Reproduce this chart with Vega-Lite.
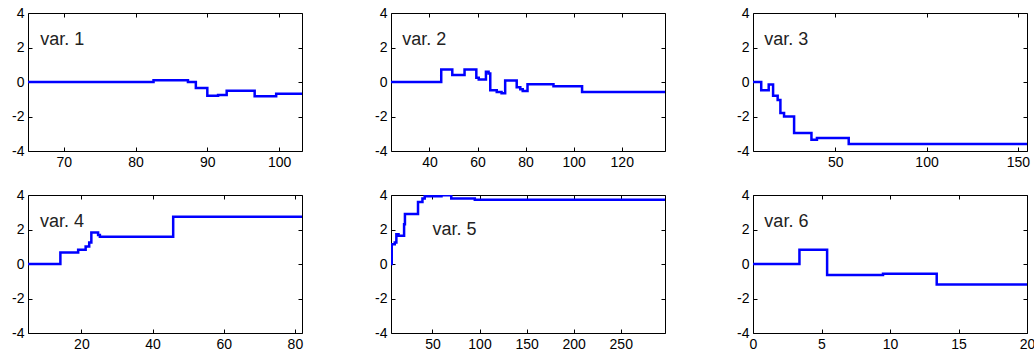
{
  "$schema": "https://vega.github.io/schema/vega-lite/v6.json",
  "background": "white",
  "padding": {"left": 11, "top": 5, "right": 3, "bottom": 5},
  "datasets": {
    "series": [
      {"v": 1, "x": 65, "y": 0}, {"v": 1, "x": 82.5, "y": 0.1}, {"v": 1, "x": 87.3, "y": 0}, {"v": 1, "x": 88.4, "y": -0.35},
      {"v": 1, "x": 90.0, "y": -0.8}, {"v": 1, "x": 91.5, "y": -0.75}, {"v": 1, "x": 92.7, "y": -0.5}, {"v": 1, "x": 96.6, "y": -0.82},
      {"v": 1, "x": 99.6, "y": -0.68}, {"v": 1, "x": 103.2, "y": -0.68},
      {"v": 2, "x": 24, "y": 0}, {"v": 2, "x": 44.9, "y": 0.72}, {"v": 2, "x": 49.5, "y": 0.4}, {"v": 2, "x": 54.6, "y": 0.73},
      {"v": 2, "x": 59.5, "y": 0.25}, {"v": 2, "x": 60.5, "y": 0.15}, {"v": 2, "x": 63.5, "y": 0.6}, {"v": 2, "x": 64.6, "y": 0.5},
      {"v": 2, "x": 65.3, "y": -0.48}, {"v": 2, "x": 68, "y": -0.58}, {"v": 2, "x": 70, "y": -0.65}, {"v": 2, "x": 71.5, "y": 0.08},
      {"v": 2, "x": 76.3, "y": -0.3}, {"v": 2, "x": 77.8, "y": -0.42}, {"v": 2, "x": 78.8, "y": -0.52}, {"v": 2, "x": 80.8, "y": -0.13},
      {"v": 2, "x": 91.6, "y": -0.25}, {"v": 2, "x": 103.5, "y": -0.58}, {"v": 2, "x": 138, "y": -0.58},
      {"v": 3, "x": 5, "y": 0}, {"v": 3, "x": 9.5, "y": -0.48}, {"v": 3, "x": 13.6, "y": -0.15}, {"v": 3, "x": 16, "y": -0.8},
      {"v": 3, "x": 18.5, "y": -1.05}, {"v": 3, "x": 20, "y": -1.8}, {"v": 3, "x": 22, "y": -2.0}, {"v": 3, "x": 27.5, "y": -2.95},
      {"v": 3, "x": 37, "y": -3.35}, {"v": 3, "x": 40, "y": -3.25}, {"v": 3, "x": 57.4, "y": -3.6}, {"v": 3, "x": 155, "y": -3.6},
      {"v": 4, "x": 5, "y": 0}, {"v": 4, "x": 14.1, "y": 0.67}, {"v": 4, "x": 19.1, "y": 0.83}, {"v": 4, "x": 21.2, "y": 1.02},
      {"v": 4, "x": 22.2, "y": 1.25}, {"v": 4, "x": 22.8, "y": 1.83}, {"v": 4, "x": 24.7, "y": 1.68}, {"v": 4, "x": 25.2, "y": 1.58},
      {"v": 4, "x": 45.8, "y": 2.74}, {"v": 4, "x": 82, "y": 2.74},
      {"v": 5, "x": 6, "y": 0}, {"v": 5, "x": 6.8, "y": 1.15}, {"v": 5, "x": 10, "y": 1.25}, {"v": 5, "x": 11.7, "y": 1.73},
      {"v": 5, "x": 14, "y": 1.64}, {"v": 5, "x": 19.9, "y": 2.31}, {"v": 5, "x": 20.8, "y": 2.9}, {"v": 5, "x": 34.7, "y": 3.6},
      {"v": 5, "x": 39.4, "y": 3.8}, {"v": 5, "x": 41.8, "y": 3.93}, {"v": 5, "x": 59.6, "y": 3.99}, {"v": 5, "x": 70, "y": 3.8},
      {"v": 5, "x": 95, "y": 3.72}, {"v": 5, "x": 297, "y": 3.72},
      {"v": 6, "x": 0, "y": 0}, {"v": 6, "x": 3.39, "y": 0.83}, {"v": 6, "x": 5.41, "y": -0.64}, {"v": 6, "x": 9.49, "y": -0.56},
      {"v": 6, "x": 13.41, "y": -1.19}, {"v": 6, "x": 20, "y": -1.19}
    ]
  },
  "columns": 3,
  "spacing": {"row": 17, "column": 70},
  "concat": [
    {
      "width": 274, "height": 138,
      "layer": [
        {"data": {"name": "series"}, "transform": [{"filter": "datum.v == 1"}],
         "mark": {"type": "line", "interpolate": "step-after", "color": "#0000ff", "strokeWidth": 2.5, "clip": true},
         "encoding": {
           "x": {"field": "x", "type": "quantitative", "scale": {"domain": [65, 103.2], "nice": false, "zero": false}, "axis": {"values": [70, 80, 90, 100], "title": null}},
           "y": {"field": "y", "type": "quantitative", "scale": {"domain": [-4, 4], "nice": false}, "axis": {"values": [-4, -2, 0, 2, 4], "title": null}}}},
        {"data": {"values": [{"label": "var. 1"}]},
         "mark": {"type": "text", "align": "left", "baseline": "middle", "fontSize": 18, "font": "Liberation Sans", "color": "#222"},
         "encoding": {
           "x": {"datum": 66.7, "type": "quantitative", "scale": {"domain": [65, 103.2], "nice": false, "zero": false}, "axis": {"orient": "top", "labels": false, "values": [70, 80, 90, 100], "title": null}},
           "y": {"datum": 2.45, "type": "quantitative", "scale": {"domain": [-4, 4], "nice": false}, "axis": {"orient": "right", "labels": false, "values": [-4, -2, 0, 2, 4], "title": null}},
           "text": {"field": "label"}}}
      ],
      "resolve": {"axis": {"x": "independent", "y": "independent"}}
    },
    {
      "width": 274, "height": 138,
      "layer": [
        {"data": {"name": "series"}, "transform": [{"filter": "datum.v == 2"}],
         "mark": {"type": "line", "interpolate": "step-after", "color": "#0000ff", "strokeWidth": 2.5, "clip": true},
         "encoding": {
           "x": {"field": "x", "type": "quantitative", "scale": {"domain": [24, 138], "nice": false, "zero": false}, "axis": {"values": [40, 60, 80, 100, 120], "title": null}},
           "y": {"field": "y", "type": "quantitative", "scale": {"domain": [-4, 4], "nice": false}, "axis": {"values": [-4, -2, 0, 2, 4], "title": null}}}},
        {"data": {"values": [{"label": "var. 2"}]},
         "mark": {"type": "text", "align": "left", "baseline": "middle", "fontSize": 18, "font": "Liberation Sans", "color": "#222"},
         "encoding": {
           "x": {"datum": 28.7, "type": "quantitative", "scale": {"domain": [24, 138], "nice": false, "zero": false}, "axis": {"orient": "top", "labels": false, "values": [40, 60, 80, 100, 120], "title": null}},
           "y": {"datum": 2.45, "type": "quantitative", "scale": {"domain": [-4, 4], "nice": false}, "axis": {"orient": "right", "labels": false, "values": [-4, -2, 0, 2, 4], "title": null}},
           "text": {"field": "label"}}}
      ],
      "resolve": {"axis": {"x": "independent", "y": "independent"}}
    },
    {
      "width": 274, "height": 138,
      "layer": [
        {"data": {"name": "series"}, "transform": [{"filter": "datum.v == 3"}],
         "mark": {"type": "line", "interpolate": "step-after", "color": "#0000ff", "strokeWidth": 2.5, "clip": true},
         "encoding": {
           "x": {"field": "x", "type": "quantitative", "scale": {"domain": [5, 155], "nice": false, "zero": false}, "axis": {"values": [50, 100, 150], "title": null}},
           "y": {"field": "y", "type": "quantitative", "scale": {"domain": [-4, 4], "nice": false}, "axis": {"values": [-4, -2, 0, 2, 4], "title": null}}}},
        {"data": {"values": [{"label": "var. 3"}]},
         "mark": {"type": "text", "align": "left", "baseline": "middle", "fontSize": 18, "font": "Liberation Sans", "color": "#222"},
         "encoding": {
           "x": {"datum": 11.2, "type": "quantitative", "scale": {"domain": [5, 155], "nice": false, "zero": false}, "axis": {"orient": "top", "labels": false, "values": [50, 100, 150], "title": null}},
           "y": {"datum": 2.45, "type": "quantitative", "scale": {"domain": [-4, 4], "nice": false}, "axis": {"orient": "right", "labels": false, "values": [-4, -2, 0, 2, 4], "title": null}},
           "text": {"field": "label"}}}
      ],
      "resolve": {"axis": {"x": "independent", "y": "independent"}}
    },
    {
      "width": 274, "height": 138,
      "layer": [
        {"data": {"name": "series"}, "transform": [{"filter": "datum.v == 4"}],
         "mark": {"type": "line", "interpolate": "step-after", "color": "#0000ff", "strokeWidth": 2.5, "clip": true},
         "encoding": {
           "x": {"field": "x", "type": "quantitative", "scale": {"domain": [5, 82], "nice": false, "zero": false}, "axis": {"values": [20, 40, 60, 80], "title": null}},
           "y": {"field": "y", "type": "quantitative", "scale": {"domain": [-4, 4], "nice": false}, "axis": {"values": [-4, -2, 0, 2, 4], "title": null}}}},
        {"data": {"values": [{"label": "var. 4"}]},
         "mark": {"type": "text", "align": "left", "baseline": "middle", "fontSize": 18, "font": "Liberation Sans", "color": "#222"},
         "encoding": {
           "x": {"datum": 8.4, "type": "quantitative", "scale": {"domain": [5, 82], "nice": false, "zero": false}, "axis": {"orient": "top", "labels": false, "values": [20, 40, 60, 80], "title": null}},
           "y": {"datum": 2.45, "type": "quantitative", "scale": {"domain": [-4, 4], "nice": false}, "axis": {"orient": "right", "labels": false, "values": [-4, -2, 0, 2, 4], "title": null}},
           "text": {"field": "label"}}}
      ],
      "resolve": {"axis": {"x": "independent", "y": "independent"}}
    },
    {
      "width": 274, "height": 138,
      "layer": [
        {"data": {"name": "series"}, "transform": [{"filter": "datum.v == 5"}],
         "mark": {"type": "line", "interpolate": "step-after", "color": "#0000ff", "strokeWidth": 2.5, "clip": true},
         "encoding": {
           "x": {"field": "x", "type": "quantitative", "scale": {"domain": [6, 297], "nice": false, "zero": false}, "axis": {"values": [50, 100, 150, 200, 250], "title": null}},
           "y": {"field": "y", "type": "quantitative", "scale": {"domain": [-4, 4], "nice": false}, "axis": {"values": [-4, -2, 0, 2, 4], "title": null}}}},
        {"data": {"values": [{"label": "var. 5"}]},
         "mark": {"type": "text", "align": "left", "baseline": "middle", "fontSize": 18, "font": "Liberation Sans", "color": "#222"},
         "encoding": {
           "x": {"datum": 50, "type": "quantitative", "scale": {"domain": [6, 297], "nice": false, "zero": false}, "axis": {"orient": "top", "labels": false, "values": [50, 100, 150, 200, 250], "title": null}},
           "y": {"datum": 2.0, "type": "quantitative", "scale": {"domain": [-4, 4], "nice": false}, "axis": {"orient": "right", "labels": false, "values": [-4, -2, 0, 2, 4], "title": null}},
           "text": {"field": "label"}}}
      ],
      "resolve": {"axis": {"x": "independent", "y": "independent"}}
    },
    {
      "width": 274, "height": 138,
      "layer": [
        {"data": {"name": "series"}, "transform": [{"filter": "datum.v == 6"}],
         "mark": {"type": "line", "interpolate": "step-after", "color": "#0000ff", "strokeWidth": 2.5, "clip": true},
         "encoding": {
           "x": {"field": "x", "type": "quantitative", "scale": {"domain": [0, 20], "nice": false, "zero": false}, "axis": {"values": [0, 5, 10, 15, 20], "title": null}},
           "y": {"field": "y", "type": "quantitative", "scale": {"domain": [-4, 4], "nice": false}, "axis": {"values": [-4, -2, 0, 2, 4], "title": null}}}},
        {"data": {"values": [{"label": "var. 6"}]},
         "mark": {"type": "text", "align": "left", "baseline": "middle", "fontSize": 18, "font": "Liberation Sans", "color": "#222"},
         "encoding": {
           "x": {"datum": 0.83, "type": "quantitative", "scale": {"domain": [0, 20], "nice": false, "zero": false}, "axis": {"orient": "top", "labels": false, "values": [0, 5, 10, 15, 20], "title": null}},
           "y": {"datum": 2.45, "type": "quantitative", "scale": {"domain": [-4, 4], "nice": false}, "axis": {"orient": "right", "labels": false, "values": [-4, -2, 0, 2, 4], "title": null}},
           "text": {"field": "label"}}}
      ],
      "resolve": {"axis": {"x": "independent", "y": "independent"}}
    }
  ],
  "config": {
    "view": {"stroke": "#000000", "strokeWidth": 1},
    "axis": {
      "grid": false, "domain": false,
      "tickColor": "#000000", "tickSize": -4, "tickWidth": 1,
      "labelColor": "#000000", "labelFont": "Liberation Sans", "labelFontSize": 14,
      "labelExpr": "'' + datum.value",
      "labelPadding": 8, "labelFlush": false, "labelOverlap": false, "labelBound": false
    }
  }
}
